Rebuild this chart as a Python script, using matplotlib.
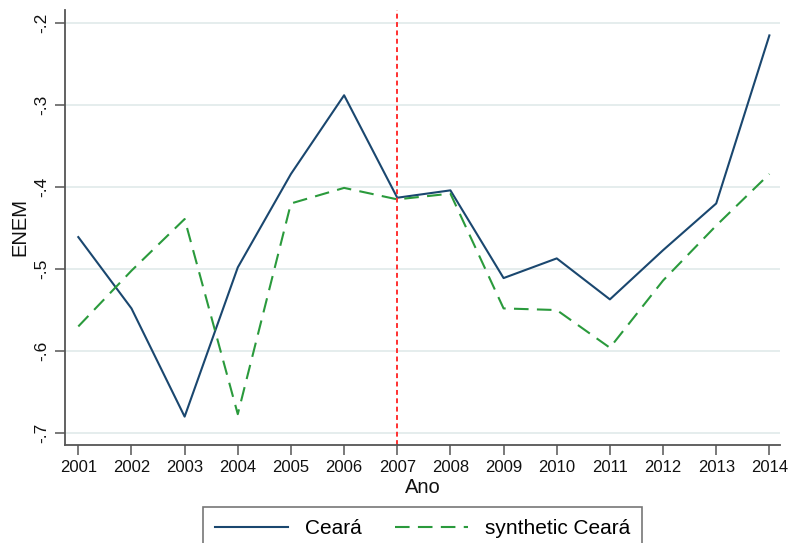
import matplotlib.pyplot as plt

plt.rcParams['font.family'] = ['Liberation Sans', 'DejaVu Sans']

years = list(range(2001, 2015))
ceara = [-0.461, -0.548, -0.680, -0.498, -0.384, -0.288, -0.413,
         -0.404, -0.511, -0.487, -0.537, -0.477, -0.420, -0.215]
synthetic = [-0.570, -0.502, -0.439, -0.677, -0.420, -0.401, -0.415,
             -0.408, -0.548, -0.550, -0.596, -0.514, -0.447, -0.384]
y_ticks = [-0.7, -0.6, -0.5, -0.4, -0.3, -0.2]
y_labels = ['-.7', '-.6', '-.5', '-.4', '-.3', '-.2']
treat_year = 2007

fig = plt.figure(figsize=(7.89, 5.43), dpi=100)
ax = fig.add_axes([0.0824, 0.1805, 0.9062, 0.8011])

for y in y_ticks:
    ax.axhline(y, color='#e3ecec', lw=1.3, zorder=0)

ax.plot(years, ceara, color='#1a476f', lw=1.5, label='Ceará')
ax.plot(years, synthetic, color='#2a9a3c', lw=1.5, dashes=(7, 4),
        label='synthetic Ceará')
ax.axvline(treat_year, color='#ff3030', lw=1.4, dashes=(2.5, 1.8))

ax.set_xlim(2000.75, 2014.2)
ax.set_ylim(-0.7146, -0.184)
ax.set_xticks(years)
ax.set_xticklabels([str(y) for y in years], fontsize=12)
ax.set_yticks(y_ticks)
ax.set_yticklabels(y_labels, fontsize=12.5, rotation=90, va='center')

for side in ['top', 'right']:
    ax.spines[side].set_visible(False)
for side in ['left', 'bottom']:
    ax.spines[side].set_color('#555555')
    ax.spines[side].set_linewidth(1.3)
ax.tick_params(length=7, width=1.1, color='#555555', labelcolor='#111111')
ax.tick_params(axis='x', pad=4)
ax.tick_params(axis='y', pad=4)

ax.set_xlabel('Ano', fontsize=14.5, labelpad=2, color='#111111')
ax.set_ylabel('ENEM', fontsize=14.5, labelpad=4, color='#111111')

leg = fig.legend(loc='upper center', bbox_to_anchor=(0.5355, 0.0663), ncol=2,
                 fontsize=15, frameon=True, fancybox=False, handlelength=3.5,
                 columnspacing=1.6, borderpad=0.6, borderaxespad=0)
leg.get_frame().set_edgecolor('#555555')
leg.get_frame().set_linewidth(1.2)

fig.savefig('out.png', dpi=100)
